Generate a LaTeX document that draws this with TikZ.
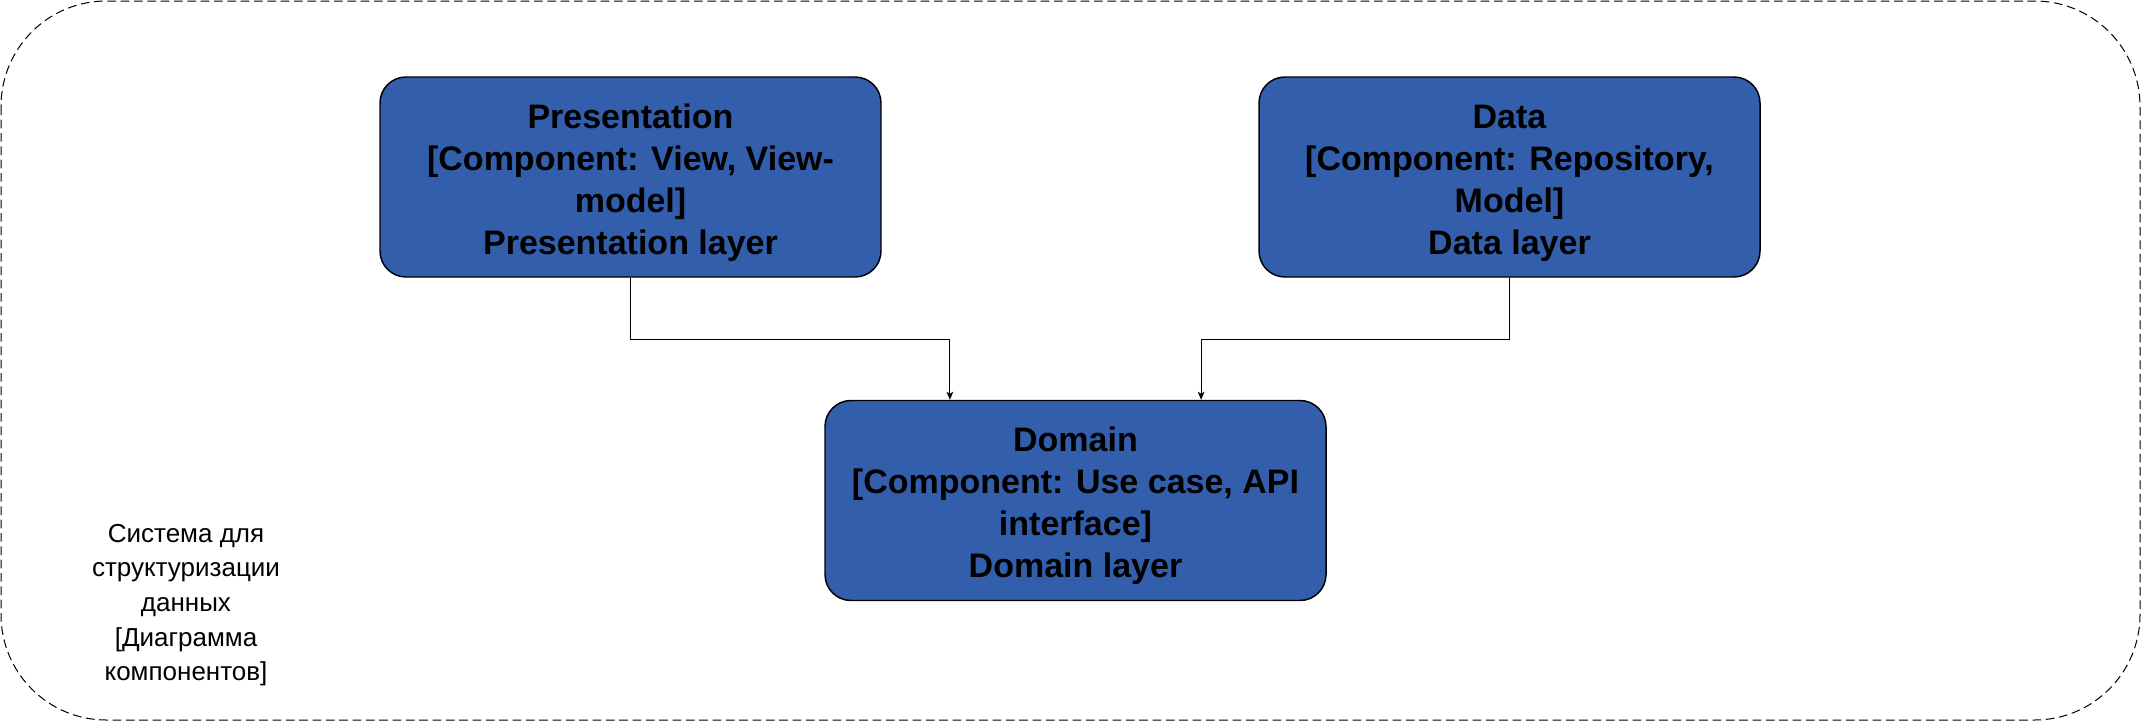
\documentclass[tikz,border=0pt]{standalone}
\usepackage{fontspec}
\setmainfont{Liberation Sans}
\usetikzlibrary{arrows.meta,calc}
\definecolor{compblue}{RGB}{51,94,172}
\newcommand{\toprule}{\rule{0pt}{26.5pt}}

\begin{document}
\begin{tikzpicture}[x=0.75pt,y=-0.75pt,
  comp/.style={draw=black,line width=1.1pt,fill=compblue,rounded corners=19.5pt,
    minimum width=375.75pt,minimum height=150pt,inner sep=0pt,align=center,
    font=\fontsize{25.5}{31.5}\selectfont\bfseries},
  link/.style={-{Stealth[length=6pt,width=5pt,inset=1.5pt]},line width=0.75pt}]
\useasboundingbox (0,0) rectangle (2141,721);
\draw[line width=0.75pt,dash pattern=on 6.5pt off 3.5pt,rounded corners=79pt] (1,1) rectangle (2140,720);
\node[comp] (pres) at (630.5,177) {\toprule Presentation\\{}[Component: View, View-\\model]\\Presentation layer};
\node[comp] (data) at (1509.5,177) {\toprule Data\\{}[Component: Repository,\\Model]\\Data layer};
\node[comp] (dom) at (1075.5,500.5) {\toprule Domain\\{}[Component: Use case, API\\interface]\\Domain layer};
\node[align=center,font=\fontsize{19.5}{26}\selectfont] (sys) at (186,605) {Система для\\структуризации\\данных\\{}[Диаграмма\\компонентов]};
\coordinate (knee) at (0,339);
\draw[link] (pres.south) -- (pres.south |- knee) -| ($(dom.north west)!0.5!(dom.north)$);
\draw[link] (data.south) -- (data.south |- knee) -| ($(dom.north east)!0.5!(dom.north)$);
\end{tikzpicture}
\end{document}
